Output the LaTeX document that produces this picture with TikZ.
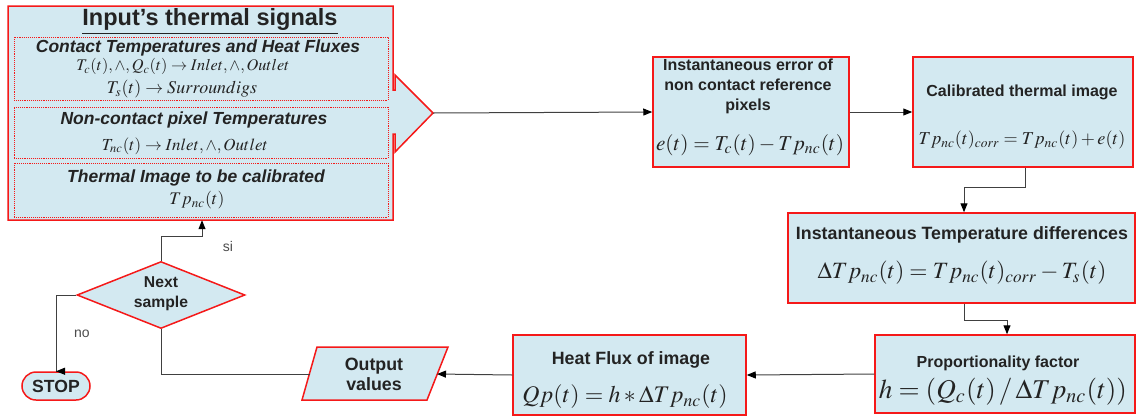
\documentclass[tikz,border=0pt]{standalone}
\usepackage{mathptmx}
\usepackage{fontspec}
\setmainfont{Liberation Sans}
\usepackage{graphicx}
\usetikzlibrary{shapes.geometric,arrows.meta}
\definecolor{bfill}{RGB}{211,233,241}
\definecolor{bred}{RGB}{245,25,25}
\definecolor{ink}{RGB}{35,35,35}
\newcommand\fml[2]{\resizebox{#1pt}{!}{$#2$}}
\newcommand\fs[1]{\fontsize{#1}{20}\selectfont}
\begin{document}
\begin{tikzpicture}[x=1pt,y=-1pt,
  box/.style={draw=bred,fill=bfill,line width=1.5pt,inner sep=0pt},
  sub/.style={draw=bred,densely dotted,line width=0.9pt,inner sep=0pt},
  tb/.style={text=ink,font=\bfseries\fs{#1},inner sep=0pt,align=center},
  tb/.default=16,
  ti/.style={text=ink,font=\bfseries\itshape\fs{17.5},inner sep=0pt,align=center},
  fm/.style={text=ink,inner sep=0pt},
  lab/.style={text=black!70,font=\fs{14},inner sep=0pt},
  ln/.style={draw=black!75,line width=1pt},
  arr/.style={ln,-{Triangle[length=9pt,width=7pt,fill=black,color=black]}}]
\useasboundingbox (0,0) rectangle (1137,416);

% input block (arrow callout)
\node[minimum width=385pt,minimum height=214pt,inner sep=0pt] (inp) at (200.5,113) {};
\draw[box] (8,6) -- (393,6) -- (393,90) -- (395,90) -- (395,75) -- (433,113)
  -- (395,152) -- (395,134) -- (393,134) -- (393,220) -- (8,220) -- cycle;
\coordinate (inptip) at (433,113);
\node[tb=23.5] (ttl) at (210,22) {\underline{Input’s thermal signals}};
\node[sub,minimum width=374pt,minimum height=63pt] (sb1) at (201,68.5) {};
\node[sub,minimum width=374pt,minimum height=51pt] (sb2) at (201,132.5) {};
\node[sub,minimum width=374pt,minimum height=54pt] (sb3) at (201,190) {};
\node[ti] (sb1t) at (198,48) {Contact Temperatures and Heat Fluxes};
\node[fm] (sb1a) at (183,66.5) {\fml{213}{T_c(t),\wedge,Q_c(t)\rightarrow Inlet,\wedge,Outlet}};
\node[fm] (sb1b) at (182,89) {\fml{150}{T_s(t)\rightarrow Surroundigs}};
\node[ti] (sb2t) at (194,120) {Non-contact pixel Temperatures};
\node[fm] (sb2a) at (185,146) {\fml{166}{T_{nc}(t)\rightarrow Inlet,\wedge,Outlet}};
\node[ti] (sb3t) at (196,178) {Thermal Image to be calibrated};
\node[fm] (sb3a) at (197,200) {\fml{55}{Tp_{nc}(t)}};

% error box
\node[box,minimum width=196pt,minimum height=110pt] (e) at (751,112) {};
\node[tb=16] (et) at (748,86) {Instantaneous error of\\non contact reference\\pixels};
\node[fm] (ef) at (750,145) {\fml{188}{e(t)=T_c(t)-Tp_{nc}(t)}};

% calibrated box
\node[box,minimum width=220pt,minimum height=110pt] (cal) at (1023,112) {};
\node[tb=16] (calt) at (1022,92) {Calibrated thermal image};
\node[fm] (calf) at (1022,140) {\fml{207}{Tp_{nc}(t)_{corr}=Tp_{nc}(t)+e(t)}};

% temperature difference box
\node[box,minimum width=347pt,minimum height=90pt] (dT) at (961.5,258) {};
\node[tb=17.8] (dTt) at (962,235) {Instantaneous Temperature differences};
\node[fm] (dTf) at (962,273) {\fml{289}{\Delta Tp_{nc}(t)=Tp_{nc}(t)_{corr}-T_s(t)}};

% proportionality box
\node[box,minimum width=260pt,minimum height=78pt] (prop) at (1005,374) {};
\node[tb=16] (propt) at (998,363) {Proportionality factor};
\node[fm] (propf) at (1003,392) {\fml{248}{h=(Q_c(t)\,/\,\Delta Tp_{nc}(t))}};

% heat flux box
\node[box,minimum width=233pt,minimum height=80pt] (hf) at (629.5,375) {};
\node[tb=17.8] (hft) at (631,360) {Heat Flux of image};
\node[fm] (hff) at (625,397) {\fml{205}{Qp(t)=h*\Delta Tp_{nc}(t)}};

% output values (parallelogram)
\draw[box] (317,347) -- (448,347) -- (427,400) -- (302,400) -- cycle;
\node[tb=17.8] (out) at (374,374) {Output\\values};
\coordinate (outR) at (437,374);
\coordinate (outL) at (310,374);

% decision
\node[box,diamond,minimum width=168pt,minimum height=67pt,aspect=2.5] (dia) at (161,295) {};
\node[tb=15.7] (diat) at (161,294) {Next\\sample};

% stop
\node[box,rounded corners=14pt,minimum width=68pt,minimum height=28pt] (stop) at (56,386) {};
\node[tb=17.6] (stopt) at (56,386) {STOP};

% labels
\node[lab] (si) at (228,246) {si};
\node[lab] (no) at (82,334) {no};

% connectors
\draw[arr] (inptip) -- (e.west);
\draw[arr] (e.east) -- (cal.west);
\draw[arr] ([xshift=2pt]cal.south) -- ++(0,20) -| ([xshift=2.5pt]dT.north);
\draw[arr] ([xshift=2.5pt]dT.south) -- ++(0,17) -| ([xshift=2pt]prop.north);
\draw[arr] (prop.west) -- (hf.east);
\draw[arr] (hf.west) -- (outR);
\draw[ln] (outL) -| (dia.south);
\draw[arr] (dia.north) -- ++(0,-24) -| ([xshift=1.5pt]inp.south);
\draw[arr] (dia.west) -- ++(-20,0) |- (stop.north);
\end{tikzpicture}
\end{document}
